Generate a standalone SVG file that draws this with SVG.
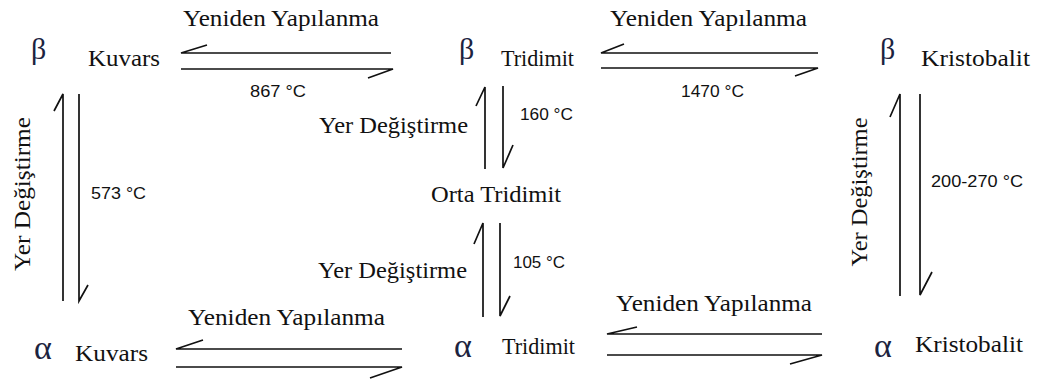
<svg xmlns="http://www.w3.org/2000/svg" width="1040" height="381" viewBox="0 0 1040 381">
<style>
.bg{fill:#ffffff}
.gr{font-family:'Liberation Serif','DejaVu Serif','Noto Serif',serif;fill:#1c2340}
.b{font-size:30px}
.a{font-size:34px}
.nm{font-family:'Liberation Serif','DejaVu Serif','Noto Serif',serif;font-size:23px;fill:#111}
.lb{font-family:'Liberation Serif','DejaVu Serif','Noto Serif',serif;font-size:23px;fill:#111}
.t{font-family:'Liberation Sans','DejaVu Sans',sans-serif;font-size:16px;fill:#111}
.ln{fill:none;stroke:#111;stroke-width:1.7;stroke-linejoin:miter}
</style>
<rect class="bg" x="0" y="0" width="1040" height="381"/>

<g id="beta-kuvars">
<text class="gr b" x="31" y="59">β</text>
<text class="nm" x="88" y="66" textLength="72" lengthAdjust="spacingAndGlyphs">Kuvars</text>
</g>
<g id="beta-tridimit">
<text class="gr b" x="459" y="59">β</text>
<text class="nm" x="501" y="66" textLength="73" lengthAdjust="spacingAndGlyphs">Tridimit</text>
</g>
<g id="beta-kristobalit">
<text class="gr b" x="880" y="59">β</text>
<text class="nm" x="921" y="66" textLength="109" lengthAdjust="spacingAndGlyphs">Kristobalit</text>
</g>
<g id="orta-tridimit">
<text class="nm" x="431" y="202" textLength="130" lengthAdjust="spacingAndGlyphs">Orta Tridimit</text>
</g>
<g id="alpha-kuvars">
<text class="gr a" x="34" y="359">α</text>
<text class="nm" x="75" y="361" textLength="73" lengthAdjust="spacingAndGlyphs">Kuvars</text>
</g>
<g id="alpha-tridimit">
<text class="gr a" x="454" y="357">α</text>
<text class="nm" x="502" y="354" textLength="73" lengthAdjust="spacingAndGlyphs">Tridimit</text>
</g>
<g id="alpha-kristobalit">
<text class="gr a" x="874" y="357">α</text>
<text class="nm" x="915" y="352" textLength="108" lengthAdjust="spacingAndGlyphs">Kristobalit</text>
</g>

<g id="connectors">
<g id="c-bkuvars-btridimit">
<path class="ln" d="M391,53 H181 L207,45"/>
<path class="ln" d="M181,69 H393 L368,78"/>
<text class="lb" x="183" y="26" textLength="196" lengthAdjust="spacingAndGlyphs">Yeniden Yapılanma</text>
<text class="t" x="250" y="97" textLength="56" lengthAdjust="spacingAndGlyphs">867 °C</text>
</g>
<g id="c-btridimit-bkristobalit">
<path class="ln" d="M818,53 H601 L624,44"/>
<path class="ln" d="M601,68 H818 L795,76"/>
<text class="lb" x="610" y="26" textLength="197" lengthAdjust="spacingAndGlyphs">Yeniden Yapılanma</text>
<text class="t" x="681" y="97" textLength="63" lengthAdjust="spacingAndGlyphs">1470 °C</text>
</g>
<g id="c-bkuvars-akuvars">
<path class="ln" d="M63,301 V94 L54,111"/>
<path class="ln" d="M79,94 V301 L88,285"/>
<text class="lb" transform="translate(30,194) rotate(-90)" text-anchor="middle" textLength="154" lengthAdjust="spacingAndGlyphs">Yer Değiştirme</text>
<text class="t" x="91" y="199" textLength="55" lengthAdjust="spacingAndGlyphs">573 °C</text>
</g>
<g id="c-btridimit-orta">
<path class="ln" d="M485,169 V87 L476,106"/>
<path class="ln" d="M503,86 V168 L513,145"/>
<text class="lb" x="319" y="133" textLength="149" lengthAdjust="spacingAndGlyphs">Yer Değiştirme</text>
<text class="t" x="520" y="120" textLength="53" lengthAdjust="spacingAndGlyphs">160 °C</text>
</g>
<g id="c-orta-atridimit">
<path class="ln" d="M483,317 V223 L474,244"/>
<path class="ln" d="M500,223 V316 L510,296"/>
<text class="lb" x="318" y="278" textLength="149" lengthAdjust="spacingAndGlyphs">Yer Değiştirme</text>
<text class="t" x="513" y="268" textLength="52" lengthAdjust="spacingAndGlyphs">105 °C</text>
</g>
<g id="c-bkristobalit-akristobalit">
<path class="ln" d="M900,296 V94 L890,117"/>
<path class="ln" d="M920,94 V295 L932,272"/>
<text class="lb" transform="translate(867,192) rotate(-90)" text-anchor="middle" textLength="149" lengthAdjust="spacingAndGlyphs">Yer Değiştirme</text>
<text class="t" x="931" y="187" textLength="92" lengthAdjust="spacingAndGlyphs">200-270 °C</text>
</g>
<g id="c-akuvars-atridimit">
<path class="ln" d="M402,349 H176 L203,340"/>
<path class="ln" d="M176,367 H402 L370,378"/>
<text class="lb" x="188" y="325" textLength="197" lengthAdjust="spacingAndGlyphs">Yeniden Yapılanma</text>
</g>
<g id="c-atridimit-akristobalit">
<path class="ln" d="M822,334 H607 L637,327"/>
<path class="ln" d="M607,355 H822 L790,364"/>
<text class="lb" x="616" y="311" textLength="196" lengthAdjust="spacingAndGlyphs">Yeniden Yapılanma</text>
</g>
</g>
</svg>
